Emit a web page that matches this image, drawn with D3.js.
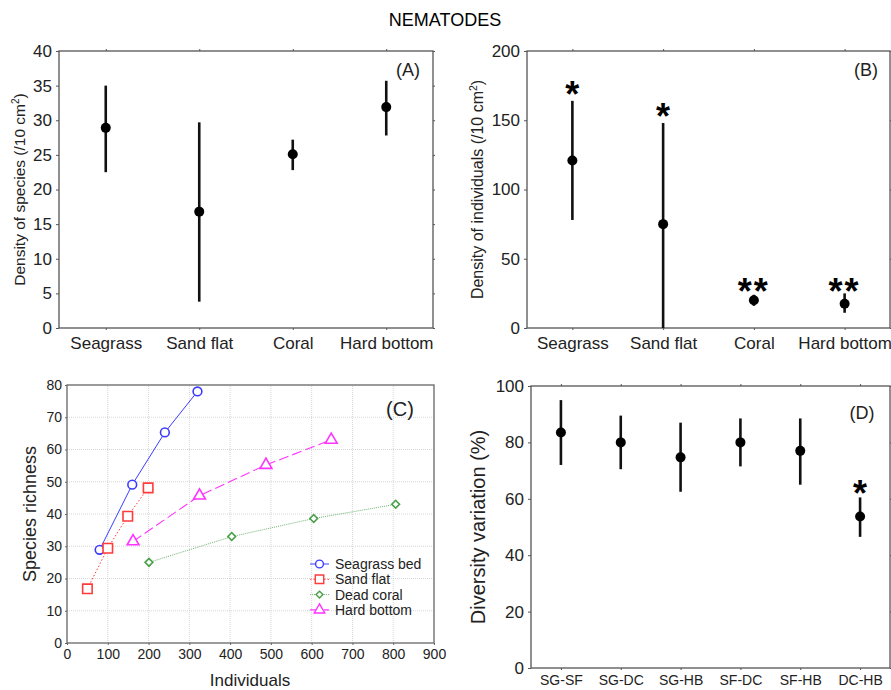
<!DOCTYPE html>
<html>
<head>
<meta charset="utf-8">
<script src="https://cdn.jsdelivr.net/npm/d3@7"></script>
<style>
  body { margin: 0; background: #fff; }
  svg { font-family: "Liberation Sans", Arial, sans-serif; }
</style>
</head>
<body>
<svg id="chart" width="891" height="690"></svg>
<script>
// panel A - density of species
const habitats = ['Seagrass', 'Sand flat', 'Coral', 'Hard bottom']
const speciesMean = [28.9, 16.8, 25.1, 31.9]
const speciesLow = [22.5, 3.8, 22.8, 27.8]
const speciesHigh = [35.0, 29.7, 27.2, 35.7]
const speciesTicks = [0, 5, 10, 15, 20, 25, 30, 35, 40]

// panel B - density of individuals
const indivMean = [121, 75, 20, 17.5]
const indivLow = [78, 0, 16, 11]
const indivHigh = [164, 148, 24, 25]
const indivStars = ['*', '*', '**', '**']
const indivStarY = [175, 159, 33, 33]
const indivTicks = [0, 50, 100, 150, 200]

// panel C - rarefaction
const xIndiv = [0, 100, 200, 300, 400, 500, 600, 700, 800, 900]
const yRich = [0, 10, 20, 30, 40, 50, 60, 70, 80]
const seagrassBed = [[80, 28.9], [160, 49.1], [240, 65.3], [320, 78]]
const sandFlat = [[50, 16.8], [100, 29.4], [149, 39.3], [199, 48.1]]
const deadCoral = [[201, 25], [404, 33], [605, 38.6], [806, 43]]
const hardBottom = [[162, 31.5], [325, 45.7], [488, 55.2], [648, 63]]
const curveNames = ['Seagrass bed', 'Sand flat', 'Dead coral', 'Hard bottom']

// panel D - diversity variation
const pairs = ['SG-SF', 'SG-DC', 'SG-HB', 'SF-DC', 'SF-HB', 'DC-HB']
const divMean = [83.5, 80, 74.7, 80, 77, 53.7]
const divLow = [72, 70.5, 62.5, 71.5, 65, 46.5]
const divHigh = [95, 89.5, 87, 88.5, 88.5, 60.5]
const divStars = ['', '', '', '', '', '*']
const divStarY = [0, 0, 0, 0, 0, 65]
const divTicks = [0, 20, 40, 60, 80, 100]

const svg = d3.select('#chart')

svg.append('text')
  .attr('x', 445).attr('y', 26)
  .attr('text-anchor', 'middle')
  .attr('font-size', 18)
  .text('NEMATODES')

//error bar panel
function errPanel(o) {
  const g = svg.append('g')
  const x = d3.scalePoint().domain(o.cats).range([o.x0, o.x1]).padding(0.5)
  const y = d3.scaleLinear().domain([0, o.ymax]).range([o.y1, o.y0])

  // frame
  g.append('rect')
    .attr('x', o.x0).attr('y', o.y0)
    .attr('width', o.x1 - o.x0).attr('height', o.y1 - o.y0)
    .attr('fill', 'none').attr('stroke', '#555').attr('stroke-width', 1.3)

  // y axis
  g.append('g')
    .attr('transform', `translate(${o.x0},0)`)
    .call(d3.axisLeft(y).tickValues(o.ticks).tickSize(3).tickPadding(4))
    .call(a => a.select('.domain').remove())
    .call(a => a.selectAll('.tick line').attr('stroke', '#555'))
    .call(a => a.selectAll('.tick text').attr('font-size', 17).attr('fill', '#222').attr('font-family', null))
  // right ticks
  g.append('g')
    .attr('transform', `translate(${o.x1},0)`)
    .call(d3.axisRight(y).tickValues(o.ticks).tickSize(2).tickFormat(''))
    .call(a => a.select('.domain').remove())
    .call(a => a.selectAll('.tick line').attr('stroke', '#555'))

  // x axis
  g.append('g')
    .attr('transform', `translate(0,${o.y1})`)
    .call(d3.axisBottom(x).tickSize(2).tickPadding(o.xpad))
    .call(a => a.select('.domain').remove())
    .call(a => a.selectAll('.tick line').attr('stroke', '#555'))
    .call(a => a.selectAll('.tick text').attr('font-size', o.xfont).attr('fill', '#222').attr('font-family', null))
  g.append('g')
    .attr('transform', `translate(0,${o.y0})`)
    .call(d3.axisTop(x).tickSize(2).tickFormat(''))
    .call(a => a.select('.domain').remove())
    .call(a => a.selectAll('.tick line').attr('stroke', '#555'))

  // y label
  g.append('text')
    .attr('transform', `translate(${o.labX},${(o.y0 + o.y1) / 2}) rotate(-90)`)
    .attr('text-anchor', 'middle')
    .attr('font-size', o.labFont)
    .attr('fill', '#222')
    .text(o.label)
    .call(t => { if (o.sup) t.append('tspan').attr('font-size', o.labFont * 0.65).attr('dy', -6).text('2') })
    .call(t => { if (o.sup) t.append('tspan').attr('dy', 6).text(')') })

  // panel tag
  g.append('text')
    .attr('x', o.tagX).attr('y', o.tagY)
    .attr('text-anchor', 'middle')
    .attr('font-size', 18)
    .attr('fill', '#222')
    .text(o.tag)

  // bars and means
  o.cats.forEach((c, i) => {
    g.append('line')
      .attr('x1', x(c)).attr('x2', x(c))
      .attr('y1', y(o.low[i])).attr('y2', y(o.high[i]))
      .attr('stroke', '#111').attr('stroke-width', 2.6)
    g.append('circle')
      .attr('cx', x(c)).attr('cy', y(o.mean[i]))
      .attr('r', 5).attr('fill', '#000')
    if (o.stars && o.stars[i]) {
      g.append('text')
        .attr('x', x(c)).attr('y', y(o.starY[i]))
        .attr('text-anchor', 'middle')
        .attr('font-size', 36)
        .attr('font-weight', 'bold')
        .attr('dy', '0.6em')
        .attr('letter-spacing', o.stars[i].length > 1 ? 2 : 0)
        .text(o.stars[i])
    }
  })
}

errPanel({
  cats: habitats, mean: speciesMean, low: speciesLow, high: speciesHigh,
  ymax: 40, ticks: speciesTicks,
  x0: 59, x1: 433, y0: 51, y1: 328,
  xpad: 7, xfont: 17,
  label: 'Density of species (/10 cm', sup: true, labX: 25, labFont: 15.5,
  tag: '(A)', tagX: 408, tagY: 76
})

errPanel({
  cats: habitats, mean: indivMean, low: indivLow, high: indivHigh,
  stars: indivStars, starY: indivStarY,
  ymax: 200, ticks: indivTicks,
  x0: 527, x1: 890, y0: 51, y1: 328,
  xpad: 7, xfont: 17,
  label: 'Density of individuals (/10 cm', sup: true, labX: 483, labFont: 16,
  tag: '(B)', tagX: 866, tagY: 76
})

errPanel({
  cats: pairs, mean: divMean, low: divLow, high: divHigh,
  stars: divStars, starY: divStarY,
  ymax: 100, ticks: divTicks,
  x0: 531, x1: 890, y0: 386, y1: 668,
  xpad: 5, xfont: 14,
  label: 'Diversity variation (%)', sup: false, labX: 485, labFont: 20,
  tag: '(D)', tagX: 862, tagY: 419
})

// panel C
const cx = d3.scaleLinear().domain([0, 900]).range([67, 434])
const cy = d3.scaleLinear().domain([0, 80]).range([643, 385])
const gc = svg.append('g')

gc.append('g')
  .selectAll('line.vg')
  .data(xIndiv.slice(1, -1))
  .join('line')
  .attr('x1', d => cx(d)).attr('x2', d => cx(d))
  .attr('y1', cy(0)).attr('y2', cy(80))
  .attr('stroke', '#ccc').attr('stroke-width', 0.8).attr('stroke-dasharray', '1,1')
gc.append('g')
  .selectAll('line.hg')
  .data(yRich.slice(1, -1))
  .join('line')
  .attr('x1', cx(0)).attr('x2', cx(900))
  .attr('y1', d => cy(d)).attr('y2', d => cy(d))
  .attr('stroke', '#ccc').attr('stroke-width', 0.8).attr('stroke-dasharray', '1,1')

gc.append('rect')
  .attr('x', cx(0)).attr('y', cy(80))
  .attr('width', cx(900) - cx(0)).attr('height', cy(0) - cy(80))
  .attr('fill', 'none').attr('stroke', '#666').attr('stroke-width', 1.3)

gc.append('g')
  .attr('transform', `translate(0,${cy(0)})`)
  .call(d3.axisBottom(cx).tickValues(xIndiv).tickSize(2).tickPadding(4))
  .call(a => a.select('.domain').remove())
  .call(a => a.selectAll('.tick line').attr('stroke', '#666'))
  .call(a => a.selectAll('.tick text').attr('font-size', 14).attr('fill', '#222').attr('font-family', null))
gc.append('g')
  .attr('transform', `translate(${cx(0)},0)`)
  .call(d3.axisLeft(cy).tickValues(yRich).tickSize(2).tickPadding(3))
  .call(a => a.select('.domain').remove())
  .call(a => a.selectAll('.tick line').attr('stroke', '#666'))
  .call(a => a.selectAll('.tick text').attr('font-size', 14).attr('fill', '#222').attr('font-family', null))

gc.append('text')
  .attr('x', 250).attr('y', 686)
  .attr('text-anchor', 'middle').attr('font-size', 17).attr('fill', '#222')
  .text('Individuals')
gc.append('text')
  .attr('transform', `translate(36,${(cy(0) + cy(80)) / 2}) rotate(-90)`)
  .attr('text-anchor', 'middle').attr('font-size', 18).attr('fill', '#222')
  .text('Species richness')
gc.append('text')
  .attr('x', 400).attr('y', 416)
  .attr('text-anchor', 'middle').attr('font-size', 20).attr('fill', '#222')
  .text('(C)')

const curves = [
  { data: seagrassBed, color: '#3b3bff', dash: null, sym: d3.symbolCircle, size: 60, width: 1, rot: 0 },
  { data: sandFlat, color: '#ff3b3b', dash: '1.5,2', sym: d3.symbolSquare, size: 90, width: 1, rot: 0 },
  { data: deadCoral, color: '#4aa04a', dash: '1,1', sym: d3.symbolSquare, size: 30, width: 0.8, rot: 45 },
  { data: hardBottom, color: '#ff33ff', dash: '10,4', sym: d3.symbolTriangle, size: 60, width: 1.1, rot: 0 }
]
const line = d3.line().x(d => cx(d[0])).y(d => cy(d[1]))

curves.forEach((c, i) => {
  gc.append('path')
    .attr('d', line(c.data))
    .attr('fill', 'none').attr('stroke', c.color)
    .attr('stroke-width', c.width)
    .attr('stroke-dasharray', c.dash)
  gc.selectAll(null)
    .data(c.data)
    .join('path')
    .attr('transform', d => `translate(${cx(d[0])},${cy(d[1])}) rotate(${c.rot})`)
    .attr('d', d3.symbol(c.sym, c.size))
    .attr('fill', '#fff').attr('stroke', c.color).attr('stroke-width', 1.6)

  // legend
  const ly = 564 + i * 15.3
  gc.append('line')
    .attr('x1', 310).attr('x2', 329).attr('y1', ly).attr('y2', ly)
    .attr('stroke', c.color).attr('stroke-width', c.width)
    .attr('stroke-dasharray', c.dash)
  gc.append('path')
    .attr('transform', `translate(319.5,${ly}) rotate(${c.rot})`)
    .attr('d', d3.symbol(c.sym, c.size * 0.8))
    .attr('fill', '#fff').attr('stroke', c.color).attr('stroke-width', 1.4)
  gc.append('text')
    .attr('x', 335).attr('y', ly).attr('dy', '0.35em')
    .attr('font-size', 14).attr('fill', '#222')
    .text(curveNames[i])
})
</script>
</body>
</html>
